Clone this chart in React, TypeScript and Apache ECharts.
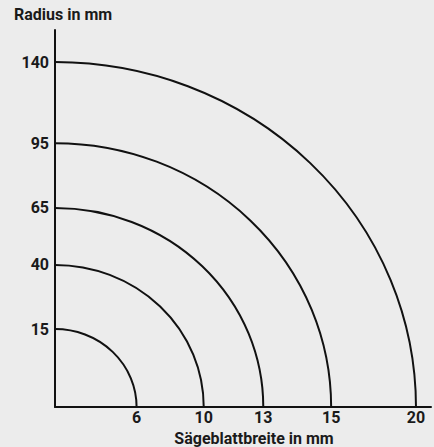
import React, { useEffect, useRef } from "react";
import * as echarts from "echarts";

// Blade widths (x labels) and minimum cutting radii (y labels), one per ring
const bladeWidthsMm = [6, 10, 13, 15, 20];
const radiiMm = [15, 40, 65, 95, 140];
// Relative size of each quarter ring in the diagram (largest ring = 1)
const ringSizes = [0.226, 0.412, 0.577, 0.765, 1.0];

const xTitle = "Sägeblattbreite in mm";
const yTitle = "Radius in mm";

const INK = "#111111";
const TEXT = "#1a1a1a";
const FONT = "Roboto";

export default function App() {
  const ref = useRef<HTMLDivElement>(null);
  useEffect(() => {
    document.body.style.margin = "0";
    const chart = echarts.init(ref.current!, null, { renderer: "svg" });
    const labelStyle = {
      color: TEXT,
      fontFamily: FONT,
      fontWeight: "bold" as const,
      fontSize: 16,
    };
    chart.setOption({
      animation: false,
      backgroundColor: "#ececec",
      grid: { left: 55, top: 30, right: 3, bottom: 40, containLabel: false },
      xAxis: {
        type: "value",
        min: 0,
        max: 1.0416,
        splitLine: { show: false },
        axisTick: { show: false },
        axisLine: { show: true, lineStyle: { color: INK, width: 2 } },
        axisLabel: {
          ...labelStyle,
          margin: 2,
          customValues: ringSizes,
          formatter: (v: number) => {
            const i = ringSizes.indexOf(v);
            return i >= 0 ? String(bladeWidthsMm[i]) : "";
          },
        },
      },
      yAxis: {
        type: "value",
        min: 0,
        max: 1.093,
        splitLine: { show: false },
        axisTick: { show: false },
        axisLine: { show: true, lineStyle: { color: INK, width: 2 } },
        axisLabel: {
          ...labelStyle,
          margin: 6,
          customValues: ringSizes,
          formatter: (v: number) => {
            const i = ringSizes.indexOf(v);
            return i >= 0 ? String(radiiMm[i]) : "";
          },
        },
      },
      graphic: [
        {
          type: "text",
          left: 14,
          top: 6,
          style: {
            text: yTitle,
            fill: TEXT,
            font: `bold 16px ${FONT}`,
          },
        },
        {
          type: "text",
          x: 254,
          y: 438,
          style: {
            text: xTitle,
            fill: TEXT,
            font: `bold 16px ${FONT}`,
            align: "center",
            verticalAlign: "middle",
          },
        },
      ],
      series: [
        {
          type: "custom",
          clip: false,
          data: ringSizes.map((s, i) => [s, s, bladeWidthsMm[i], radiiMm[i]]),
          encode: { x: 0, y: 1 },
          renderItem: (_params: any, api: any) => {
            const s = api.value(0);
            const o = api.coord([0, 0]);
            const px = api.coord([s, 0]);
            const py = api.coord([0, s]);
            const rx = px[0] - o[0];
            const ry = o[1] - py[1];
            return {
              type: "path",
              shape: {
                pathData: `M ${o[0]} ${py[1]} A ${rx} ${ry} 0 0 1 ${px[0]} ${o[1]}`,
              },
              style: { fill: "none", stroke: INK, lineWidth: 2 },
            };
          },
        },
      ],
    });
    return () => chart.dispose();
  }, []);
  return <div ref={ref} style={{ width: 434, height: 447 }} />;
}
